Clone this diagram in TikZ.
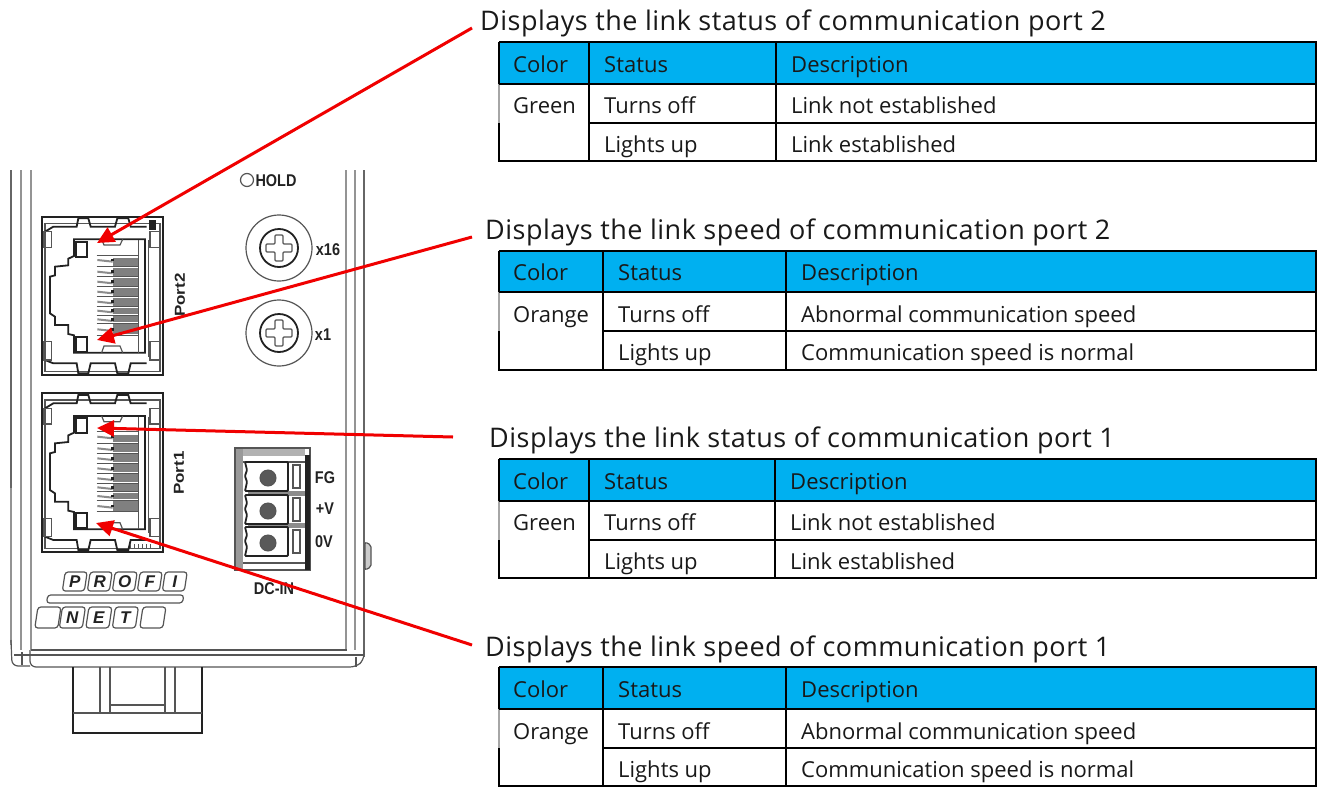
\documentclass[tikz,border=0pt]{standalone}
\usepackage{fontspec}
\setmainfont{Open Sans}
\newfontfamily\devfont{Liberation Sans}
\newfontfamily\titlefont[LetterSpace=1.8]{Open Sans}
\usetikzlibrary{arrows.meta}
\definecolor{headblue}{HTML}{00B0F0}
\definecolor{arrowred}{HTML}{F00000}
\definecolor{devline}{HTML}{555555}
\definecolor{devdark}{HTML}{222222}
\tikzset{
  titletext/.style={anchor=base west,inner sep=0pt,font=\titlefont\fontsize{27}{30}\selectfont,text=black!90},
  celltext/.style={anchor=base west,inner sep=0pt,font=\fontsize{22}{26}\selectfont,text=black!90},
  gridline/.style={black,line width=2.2pt},
  gridthin/.style={black,line width=1.2pt},
  gridpale/.style={black!35,line width=1.2pt},
  callout/.style={arrowred,line width=3pt,-{Triangle[length=17pt,width=16pt]}},
  devthin/.style={devline,line width=1.2pt},
  devthick/.style={devdark,line width=1.8pt},
  railgray/.style={black!60,line width=2.8pt},
  railpale/.style={black!42,line width=2.8pt},
  devlabel/.style={inner sep=0pt,xscale=.85,font=\devfont\bfseries\fontsize{17}{18}\selectfont,text=devdark},
  logotext/.style={inner sep=0pt,font=\devfont\bfseries\itshape\fontsize{17}{18}\selectfont,text=devdark},
  logocell/.style={devthin,rounded corners=3pt,fill=white},
}
\newcommand{\statustable}[8]{%
  \fill[headblue] (#1,#5) rectangle (#4,#6);
  \draw[gridline] (#1,#7) -- (#1,#8) -- (#4,#8) -- (#4,#5) -- (#1,#5);
  \draw[gridthin] (#1,#5) -- (#1,#6);
  \draw[gridpale] (#1,#6) -- (#1,#7);
  \draw[gridline] (#1,#6) -- (#4,#6);
  \draw[gridline] (#2,#7) -- (#4,#7);
  \draw[gridthin] (#2,#5) -- (#2,#7);
  \draw[gridthin] (#3,#5) -- (#3,#7);
  \draw[gridline] (#2,#7) -- (#2,#8);
  \draw[gridline] (#3,#7) -- (#3,#8);
}
\newcommand{\screw}[3]{%
  \node[draw=devline,circle,line width=1.2pt,minimum size=66pt,inner sep=0pt] (#1o) at (#2,#3) {};
  \node[draw=devdark,circle,line width=1.8pt,minimum size=38pt,inner sep=0pt] (#1i) at (#2,#3) {};
  \draw[devthin,rounded corners=1pt] (#2-4,#3-13) -- (#2+4,#3-13) -- (#2+4,#3-4) -- (#2+13,#3-4) -- (#2+13,#3+4) -- (#2+4,#3+4) -- (#2+4,#3+13) -- (#2-4,#3+13) -- (#2-4,#3+4) -- (#2-13,#3+4) -- (#2-13,#3-4) -- (#2-4,#3-4) -- cycle;
}
\newcommand{\rjport}[1]{%
  \begin{scope}[shift={(0,#1)},scale=1/3]
    \draw[devthick] (125,170) rectangle (490,645);
    \draw[devthin] (135,190) rectangle (480,635);
    \draw[devthick] (135,215) -- (160,200) -- (230,200) -- (235,175) -- (265,175) -- (272,200) -- (345,200) -- (352,175) -- (385,175) -- (392,200) -- (440,200);
    \draw[devthick] (135,600) -- (160,610) -- (230,610) -- (235,640) -- (265,640) -- (272,610) -- (345,610) -- (352,640) -- (385,640) -- (392,610) -- (440,610);
    \draw[devthin] (450,215) rectangle (482,262);
    \draw[devthin] (450,545) rectangle (482,600);
    \draw[devthin] (130,215) rectangle (155,262);
    \draw[devthin] (130,545) rectangle (155,600);
    \draw[devthin] (445,240) -- (445,590);
    \draw[devthick,line join=miter] (222,238) -- (222,288) -- (205,296) -- (205,316) -- (165,320) -- (165,346) -- (150,350) -- (150,460) -- (165,470) -- (165,495) -- (205,495) -- (205,522) -- (222,526) -- (222,578) -- (435,578) -- (435,238) -- cycle;
    \draw[devthin] (415,240) -- (415,578);
    \draw[devthick] (228,245) rectangle (262,290);
    \draw[devthick] (228,530) rectangle (262,575);
    \draw[devthin] (305,238) -- (312,255) -- (360,255) -- (368,238);
    \draw[devthin] (305,578) -- (312,558) -- (360,558) -- (368,578);
    \fill[black!50] (340,295) rectangle (413,525);
    \foreach \yy in {285,320,350,380,410,440,465,490,525}{
      \draw[white,line width=1.8pt] (340,\yy) -- (413,\yy);
      \draw[devline,line width=1pt] (290,\yy) -- (413,\yy);
    }
    \foreach \yy in {300,335,365,395,425,452,478,508}{
      \draw[black!45,line width=2pt] (292,\yy) -- (338,\yy+5);
      \fill[devdark] (334,\yy-4) rectangle (342,\yy+4);
    }
  \end{scope}
}
\begin{document}
\begin{tikzpicture}[x=1pt,y=-1pt]
\useasboundingbox (0,0) rectangle (1324,787);
\fill[white] (0,0) rectangle (1324,787);

% ---- device body ----
\draw[railgray] (11,170) -- (11,488);
\draw[railpale] (11,488) -- (11,645);
\draw[railpale] (21,170) -- (21,650);
\draw[railpale] (31,170) -- (31,650);
\draw[railpale] (346,170) -- (346,650);
\draw[railpale] (355,170) -- (355,650);
\draw[railgray] (364,170) -- (364,657);
\draw[devthin,rounded corners=6pt] (11,640) -- (12,666) -- (30,666);
\draw[devthin] (22,652) -- (22,665);
\draw[devline,line width=1.6pt] (31,650) -- (347,650);
\draw[devline,line width=1.6pt] (14,655) -- (364,655);
\draw[devthin,rounded corners=6pt] (30,650) -- (30,667) -- (356,667) -- (364,660) -- (364,650);
\draw[devthin] (356,657) -- (356,667);
% side tab
\draw[devthin,fill=black!20,rounded corners=2pt] (365,542) -- (371,545) -- (371,567) -- (365,570) -- cycle;
% foot
\draw[devthick] (73,667) -- (73,733) -- (202,733) -- (202,667);
\draw[devthin] (73,713) -- (202,713);
\draw[devthin] (100,667) -- (100,713);
\draw[devthin] (110,667) -- (110,713);
\draw[devthin] (165,667) -- (165,713);
\draw[devthin] (175,667) -- (175,713);
\draw[devthin] (110,705) -- (165,705);

% ---- ports ----
\rjport{160}
\rjport{336.67}
\fill[devdark] (149,220) rectangle (156,230);
\foreach \hx in {130,134,138,142,146,150}{\draw[devline,line width=.8pt] (\hx,544) -- (\hx,549);}
\node[devlabel,rotate=90] (portB) at (180,295) {Port2};
\node[devlabel,rotate=90] (portA) at (179,473) {Port1};

% ---- hold and rotary switches ----
\node[draw=devline,circle,line width=1.2pt,minimum size=13pt,inner sep=0pt] (holdled) at (247,180) {};
\node[devlabel] (holdtext) at (276,181) {HOLD};
\screw{sw16}{279}{248}
\screw{sw1}{279}{333}
\node[devlabel] (x16) at (328,250) {x16};
\node[devlabel] (x1) at (323,335) {x1};

% ---- DC-IN connector ----
\draw[devthin,fill=white] (235,448) rectangle (310,570);
\fill[black!40] (236,449) rectangle (243,569);
\fill[black!30] (243,449) rectangle (305,456);
\fill[devdark] (305,455) rectangle (310,570);
\draw[devthin] (243,462) -- (305,462);
\draw[devthin] (243,563) -- (305,563);
\fill[black!45] (248,491) rectangle (305,496);
\fill[black!45] (248,523) rectangle (305,528);
\foreach \yy/\nm in {462/a,495/b,527/c}{
  \draw[devthick,rounded corners=1pt] (245,\yy) -- (288,\yy) -- (288,\yy+29) -- (245,\yy+29) -- (247,\yy+20) -- (245,\yy+14) -- (247,\yy+8) -- cycle;
  \draw[devthin] (293,\yy+3) rectangle (300,\yy+26);
  \node[draw=devline,circle,fill=black!65,line width=1pt,minimum size=16pt,inner sep=0pt] (term\nm) at (268,\yy+16) {};
}
\node[devlabel] (fg) at (325,478) {FG};
\node[devlabel] (pv) at (325,509) {+V};
\node[devlabel] (zv) at (324,542) {0V};
\node[devlabel] (dcin) at (274,589) {DC-IN};

% ---- PROFINET logo ----
\begin{scope}[shift={(0,600)},xslant=0.15]
\foreach \cx/\ch/\nm in {1/P/p,2/R/r,3/O/o,4/F/f,5/I/i}{
  \draw[logocell] (\cx*25+36,-28) rectangle ++(22,19);
  \node[logotext] (logo\nm) at (\cx*25+47,-18.5) {\ch};
}
\draw[logocell] (47,-5) rectangle (183,3);
\draw[logocell] (39,7) rectangle (62,28);
\foreach \cx/\ch/\nm in {1/N/n,2/E/e,3/T/t}{
  \draw[logocell] (\cx*26.5+37,7) rectangle ++(23,21);
  \node[logotext] (logo\nm) at (\cx*26.5+48.5,17.5) {\ch};
}
\draw[logocell] (144,7) rectangle (167,28);
\end{scope}

% ---- tables ----
\statustable{499}{589}{776}{1316}{42}{84}{123}{161}
\statustable{499}{603}{786}{1316}{251}{292}{331}{370}
\statustable{499}{589}{775}{1316}{459}{501}{540}{578}
\statustable{499}{603}{786}{1316}{667}{709}{748}{786}

\node[titletext] (title1) at (480,30) {Displays the link status of communication port 2};
\node[celltext] (t1a) at (513,72) {Color};
\node[celltext] (t1b) at (604,72) {Status};
\node[celltext] (t1c) at (791,72) {Description};
\node[celltext] (t1d) at (513,113) {Green};
\node[celltext] (t1e) at (604,113) {Turns off};
\node[celltext] (t1f) at (791,113) {Link not established};
\node[celltext] (t1g) at (604,152) {Lights up};
\node[celltext] (t1h) at (791,152) {Link established};

\node[titletext] (title2) at (485,239) {Displays the link speed of communication port 2};
\node[celltext] (t2a) at (513,280) {Color};
\node[celltext] (t2b) at (618,280) {Status};
\node[celltext] (t2c) at (801,280) {Description};
\node[celltext] (t2d) at (513,322) {Orange};
\node[celltext] (t2e) at (618,322) {Turns off};
\node[celltext] (t2f) at (801,322) {Abnormal communication speed};
\node[celltext] (t2g) at (618,360) {Lights up};
\node[celltext] (t2h) at (801,360) {Communication speed is normal};

\node[titletext] (title3) at (489,447) {Displays the link status of communication port 1};
\node[celltext] (t3a) at (513,489) {Color};
\node[celltext] (t3b) at (604,489) {Status};
\node[celltext] (t3c) at (790,489) {Description};
\node[celltext] (t3d) at (513,530) {Green};
\node[celltext] (t3e) at (604,530) {Turns off};
\node[celltext] (t3f) at (790,530) {Link not established};
\node[celltext] (t3g) at (604,569) {Lights up};
\node[celltext] (t3h) at (790,569) {Link established};

\node[titletext] (title4) at (485,656) {Displays the link speed of communication port 1};
\node[celltext] (t4a) at (513,697) {Color};
\node[celltext] (t4b) at (618,697) {Status};
\node[celltext] (t4c) at (801,697) {Description};
\node[celltext] (t4d) at (513,739) {Orange};
\node[celltext] (t4e) at (618,739) {Turns off};
\node[celltext] (t4f) at (801,739) {Abnormal communication speed};
\node[celltext] (t4g) at (618,777) {Lights up};
\node[celltext] (t4h) at (801,777) {Communication speed is normal};

% ---- callouts ----
\coordinate (s1) at (472,28);   \coordinate (e1) at (97,243);
\coordinate (s2) at (472,237);  \coordinate (e2) at (97,340);
\coordinate (s3) at (453,437);  \coordinate (e3) at (97,428);
\coordinate (s4) at (472,645);  \coordinate (e4) at (96,523);
\draw[callout] (s1) -- (e1);
\draw[callout] (s2) -- (e2);
\draw[callout] (s3) -- (e3);
\draw[callout] (s4) -- (e4);
\end{tikzpicture}
\end{document}
